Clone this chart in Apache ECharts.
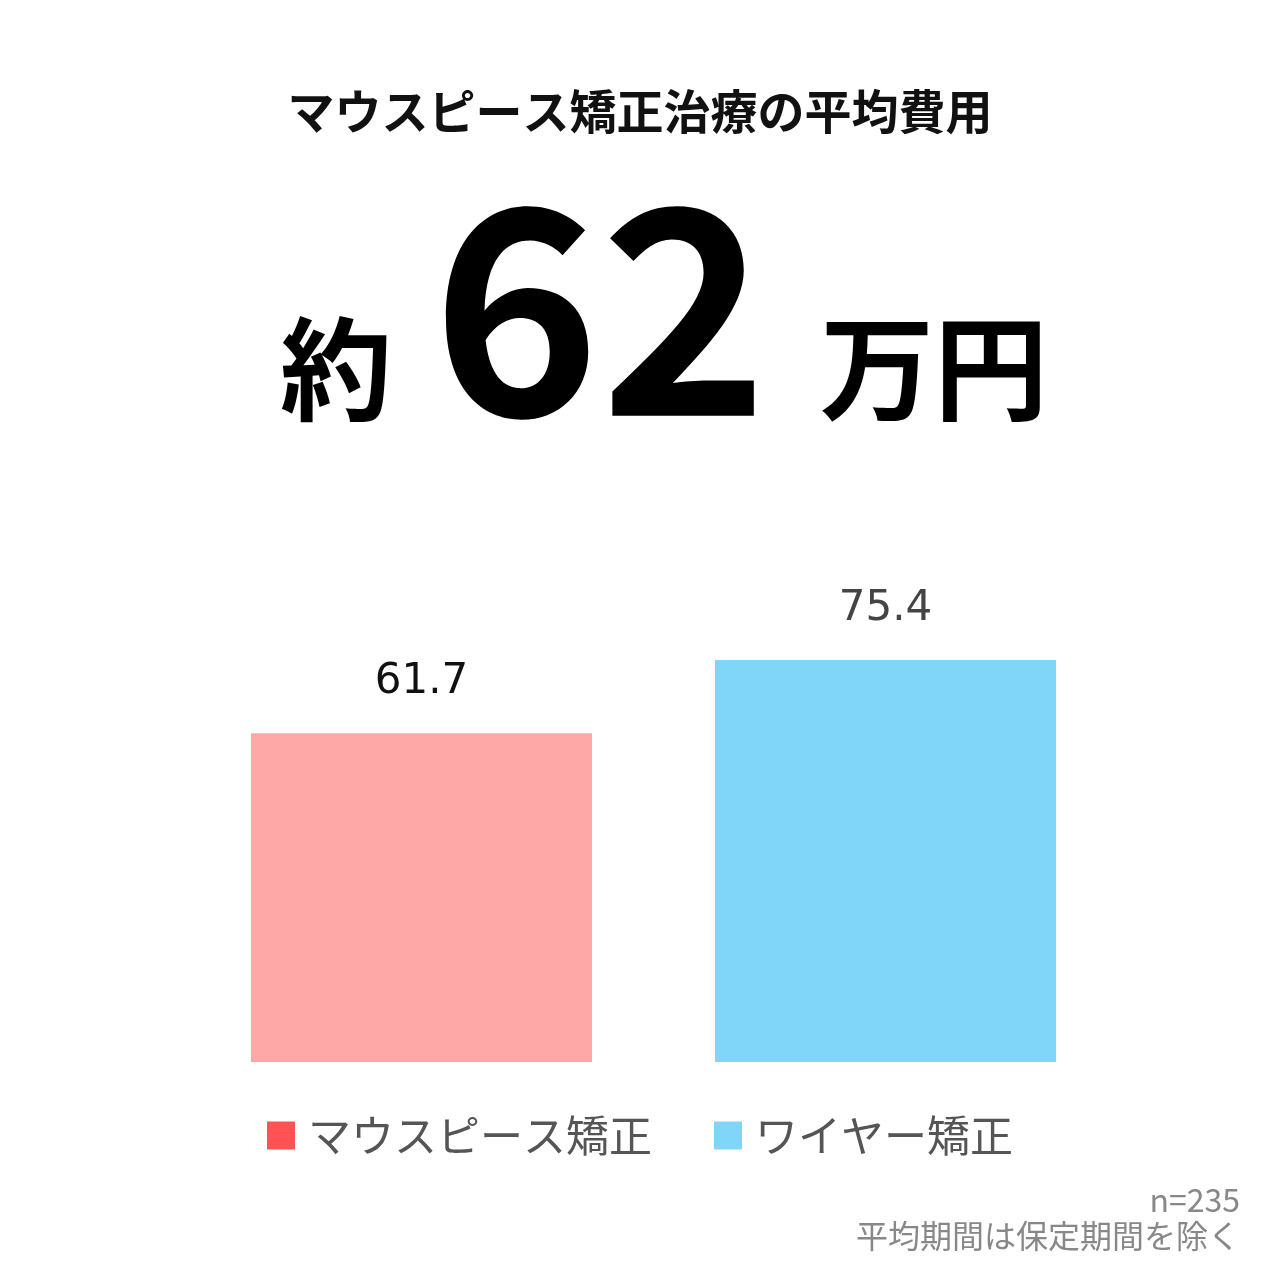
<!DOCTYPE html>
<html><head><meta charset="utf-8">
<script src="https://cdn.jsdelivr.net/npm/echarts@6/dist/echarts.min.js"></script>
<style>html,body{margin:0;background:#fff}#c{width:1280px;height:1280px}</style>
</head><body><div id="c"></div>
<script>
const categories = ['マウスピース矯正', 'ワイヤー矯正'];
const values = [61.7, 75.4];
const legendColors = ['#FF5252', '#7FD6F9'];
const barColors = ['#FFA8A8', '#7FD6F9'];
const labelColors = ['#111', '#444'];
const F = '"Noto Sans CJK JP", "Noto Sans", sans-serif';
const chart = echarts.init(document.getElementById('c'));
chart.setOption({
  backgroundColor: '#fff',
  animation: false,
  grid: { left: 189.5, right: 162.5, top: 529, bottom: 218 },
  xAxis: { type: 'category', data: categories, show: false },
  yAxis: { type: 'value', min: 0, max: 100, show: false },
  legend: {
    bottom: 118, left: 'center', itemWidth: 28, itemHeight: 28, itemGap: 62,
    icon: 'rect', textStyle: { fontSize: 43, color: '#555', fontFamily: F, padding: [0,0,0,8] }
  },
  series: categories.map((name, i) => ({
    name, type: 'bar', stack: 's', barWidth: 341, color: legendColors[i],
    data: categories.map((_, j) => j === i ? {
      value: values[i], itemStyle: { color: barColors[i] }
    } : '-'),
    label: { show: true, position: 'top', distance: 30, fontSize: 42, color: labelColors[i], fontFamily: '"DejaVu Sans", sans-serif' }
  })),
  graphic: [
    { type: 'text', left: 'center', top: 88, style: { text: 'マウスピース矯正治療の平均費用', font: 'bold 47px ' + F, fill: '#111' } },
    { type: 'text', x: 280, y: 425, style: { text: '約', font: 'bold 112px ' + F, fill: '#000', textVerticalAlign: 'bottom' } },
    { type: 'text', x: 432, y: 450, style: { text: '62', font: 'bold 285px ' + F, fill: '#000', textVerticalAlign: 'bottom', letterSpacing: 20 } },
    { type: 'text', x: 820, y: 425, style: { text: '万円', font: 'bold 114px ' + F, fill: '#000', textVerticalAlign: 'bottom' } },
    { type: 'text', right: 40, top: 1184, style: { text: 'n=235', font: '32px ' + F, fill: '#888', textAlign: 'right' } },
    { type: 'text', right: 40, top: 1220, style: { text: '平均期間は保定期間を除く', font: '32px ' + F, fill: '#888', textAlign: 'right' } }
  ]
});
</script></body></html>
